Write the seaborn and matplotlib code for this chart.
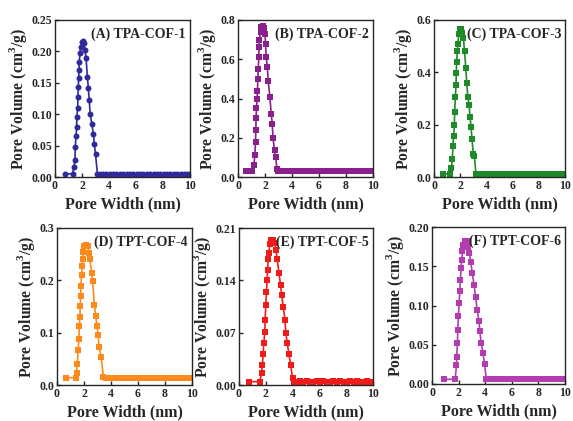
import pandas as pd
import matplotlib
matplotlib.use("Agg")
import matplotlib.pyplot as plt
import seaborn as sns

# ---- data (pore width in nm, pore volume in cm3/g) ----
a_width = [0.74, 1.3, 1.41, 1.48, 1.5, 1.56, 1.6, 1.62, 1.68, 1.7, 1.73, 1.75, 1.78, 1.8,
           1.85, 1.9, 1.98, 2.1, 2.16, 2.22, 2.3, 2.4, 2.47, 2.54, 2.6, 2.72, 2.84, 2.91, 3.0, 3.14]
a_volume = [0.005, 0.005, 0.016, 0.027, 0.048, 0.065, 0.08, 0.096, 0.11, 0.128, 0.144, 0.157,
            0.17, 0.183, 0.197, 0.207, 0.215, 0.217, 0.213, 0.202, 0.189, 0.16, 0.141, 0.122,
            0.101, 0.085, 0.069, 0.053, 0.037, 0.005]
a_tail_w = [3.3, 3.55, 3.8, 4.05, 4.3, 4.55, 4.8, 5.05, 5.3, 5.55, 5.8, 6.05, 6.3, 6.55,
            6.8, 7.05, 7.3, 7.55, 7.8, 8.05, 8.3, 8.55, 8.8, 9.05, 9.3, 9.55, 9.8, 10.0]
a_tail_v = [0.005, 0.005, 0.005, 0.005, 0.005, 0.005, 0.005, 0.005, 0.005, 0.005, 0.005, 0.005,
            0.005, 0.005, 0.005, 0.005, 0.005, 0.005, 0.005, 0.005, 0.005, 0.005, 0.005, 0.005,
            0.005, 0.005, 0.005, 0.005]

b_width = [0.6, 1.05, 1.17, 1.25, 1.3, 1.32, 1.34, 1.37, 1.42, 1.44, 1.47, 1.5, 1.54, 1.56,
           1.59, 1.67, 1.74, 1.84, 1.92, 2.0, 2.04, 2.09, 2.17, 2.24, 2.36, 2.46, 2.54, 2.59,
           2.71, 2.79, 2.89, 2.94]
b_volume = [0.03, 0.03, 0.06, 0.11, 0.18, 0.24, 0.3, 0.35, 0.4, 0.44, 0.5, 0.55, 0.61, 0.66,
            0.7, 0.74, 0.765, 0.77, 0.757, 0.73, 0.68, 0.61, 0.56, 0.49, 0.41, 0.32, 0.27, 0.2,
            0.136, 0.1, 0.04, 0.03]
b_tail_w = [3.1, 3.3, 3.5, 3.7, 3.9, 4.1, 4.35, 4.6, 4.85, 5.1, 5.35, 5.6, 5.85, 6.1, 6.35,
            6.6, 6.85, 7.1, 7.35, 7.6, 7.85, 8.1, 8.35, 8.6, 8.85, 9.1, 9.35, 9.6, 9.85, 10.0]
b_tail_v = [0.03, 0.03, 0.03, 0.03, 0.03, 0.03, 0.03, 0.03, 0.03, 0.03, 0.03, 0.03, 0.03, 0.03,
            0.03, 0.03, 0.03, 0.03, 0.03, 0.03, 0.03, 0.03, 0.03, 0.03, 0.03, 0.03, 0.03, 0.03,
            0.03, 0.03]

c_width = [0.68, 1.25, 1.33, 1.4, 1.45, 1.5, 1.55, 1.58, 1.63, 1.68, 1.7, 1.73, 1.78, 1.83,
           1.88, 1.95, 2.05, 2.15, 2.25, 2.33, 2.43, 2.5, 2.58, 2.68, 2.75, 2.83, 2.9, 3.0,
           3.08, 3.2]
c_volume = [0.012, 0.012, 0.036, 0.068, 0.12, 0.158, 0.197, 0.248, 0.306, 0.35, 0.397, 0.44,
            0.48, 0.51, 0.545, 0.564, 0.564, 0.55, 0.53, 0.48, 0.416, 0.358, 0.306, 0.274,
            0.23, 0.19, 0.145, 0.088, 0.08, 0.012]
c_tail_w = [3.35, 3.6, 3.85, 4.1, 4.35, 4.6, 4.85, 5.1, 5.35, 5.6, 5.85, 6.1, 6.35, 6.6,
            6.85, 7.1, 7.35, 7.6, 7.85, 8.1, 8.35, 8.6, 8.85, 9.1, 9.35, 9.6, 9.85, 10.0]
c_tail_v = [0.012, 0.012, 0.012, 0.012, 0.012, 0.012, 0.012, 0.012, 0.012, 0.012, 0.012, 0.012,
            0.012, 0.012, 0.012, 0.012, 0.012, 0.012, 0.012, 0.012, 0.012, 0.012, 0.012, 0.012,
            0.012, 0.012, 0.012, 0.012]

d_width = [0.7, 1.4, 1.45, 1.5, 1.57, 1.62, 1.65, 1.7, 1.72, 1.75, 1.77, 1.82, 1.87, 1.9,
           1.95, 2.02, 2.14, 2.27, 2.37, 2.44, 2.57, 2.64, 2.77, 2.87, 2.97, 3.04, 3.12, 3.27,
           3.44]
d_volume = [0.014, 0.014, 0.022, 0.04, 0.067, 0.087, 0.112, 0.13, 0.151, 0.17, 0.19, 0.21,
            0.227, 0.24, 0.255, 0.266, 0.268, 0.265, 0.253, 0.24, 0.214, 0.198, 0.153, 0.131,
            0.112, 0.096, 0.073, 0.054, 0.015]
d_tail_w = [3.6, 3.85, 4.1, 4.35, 4.6, 4.85, 5.1, 5.35, 5.6, 5.85, 6.1, 6.35, 6.6, 6.85,
            7.1, 7.35, 7.6, 7.85, 8.1, 8.35, 8.6, 8.85, 9.1, 9.35, 9.6, 9.85, 10.0]
d_tail_v = [0.014, 0.014, 0.014, 0.014, 0.014, 0.014, 0.014, 0.014, 0.014, 0.014, 0.014, 0.014,
            0.014, 0.014, 0.014, 0.014, 0.014, 0.014, 0.014, 0.014, 0.014, 0.014, 0.014, 0.014,
            0.014, 0.014, 0.014]

e_width = [0.75, 1.55, 1.68, 1.75, 1.8, 1.85, 1.93, 1.95, 2.0, 2.05, 2.1, 2.13, 2.18, 2.23,
           2.3, 2.4, 2.55, 2.68, 2.75, 2.85, 2.98, 3.1, 3.18, 3.3, 3.43, 3.5, 3.6, 3.72, 3.85,
           4.0, 4.1]
e_volume = [0.0045, 0.0045, 0.0156, 0.027, 0.042, 0.056, 0.071, 0.087, 0.107, 0.125, 0.141,
            0.154, 0.168, 0.176, 0.188, 0.194, 0.194, 0.19, 0.181, 0.168, 0.15, 0.134, 0.121,
            0.105, 0.087, 0.069, 0.056, 0.042, 0.027, 0.009, 0.0045]
e_tail_w = [4.3, 4.55, 4.8, 5.05, 5.3, 5.55, 5.8, 6.05, 6.3, 6.55, 6.8, 7.05, 7.3, 7.55,
            7.8, 8.05, 8.3, 8.55, 8.8, 9.05, 9.3, 9.55, 9.8, 10.0]
e_tail_v = [0.004, 0.005, 0.004, 0.005, 0.004, 0.004, 0.005, 0.004, 0.005, 0.004, 0.004, 0.005,
            0.004, 0.005, 0.004, 0.004, 0.005, 0.004, 0.005, 0.004, 0.004, 0.005, 0.004, 0.004]

f_width = [0.87, 1.74, 1.84, 1.86, 1.91, 1.94, 1.99, 2.04, 2.09, 2.14, 2.19, 2.24, 2.29, 2.36,
           2.46, 2.61, 2.71, 2.81, 2.91, 3.03, 3.16, 3.28, 3.4, 3.53, 3.6, 3.7, 3.83, 3.95,
           4.07, 4.2]
f_volume = [0.006, 0.006, 0.024, 0.035, 0.052, 0.069, 0.086, 0.103, 0.118, 0.133, 0.148, 0.158,
            0.169, 0.177, 0.182, 0.182, 0.175, 0.167, 0.156, 0.141, 0.126, 0.111, 0.094, 0.08,
            0.067, 0.052, 0.039, 0.026, 0.007, 0.006]
f_tail_w = [4.4, 4.65, 4.9, 5.15, 5.4, 5.65, 5.9, 6.15, 6.4, 6.65, 6.9, 7.15, 7.4, 7.65,
            7.9, 8.15, 8.4, 8.65, 8.9, 9.15, 9.4, 9.65, 9.9, 10.0]
f_tail_v = [0.006, 0.006, 0.006, 0.006, 0.006, 0.006, 0.006, 0.006, 0.006, 0.006, 0.006, 0.006,
            0.006, 0.006, 0.006, 0.006, 0.006, 0.006, 0.006, 0.006, 0.006, 0.006, 0.006, 0.006]

labels = ["(A) TPA-COF-1", "(B) TPA-COF-2", "(C) TPA-COF-3",
          "(D) TPT-COF-4", "(E) TPT-COF-5", "(F) TPT-COF-6"]
colors = ["#2e2a9c", "#8a1f8e", "#1f8a2a", "#ff8a1c", "#f01c1c", "#b23cb0"]
markers = ["o", "s", "s", "s", "s", "s"]
y_max = [0.25, 0.8, 0.6, 0.3, 0.21, 0.20]
y_ticks = [[0.0, 0.05, 0.10, 0.15, 0.20, 0.25],
           [0.0, 0.2, 0.4, 0.6, 0.8],
           [0.0, 0.2, 0.4, 0.6],
           [0.0, 0.1, 0.2, 0.3],
           [0.0, 0.07, 0.14, 0.21],
           [0.0, 0.05, 0.10, 0.15, 0.20]]
y_fmt = ["%.2f", "%.1f", "%.1f", "%.1f", "%.2f", "%.2f"]

series = [(a_width + a_tail_w, a_volume + a_tail_v),
          (b_width + b_tail_w, b_volume + b_tail_v),
          (c_width + c_tail_w, c_volume + c_tail_v),
          (d_width + d_tail_w, d_volume + d_tail_v),
          (e_width + e_tail_w, e_volume + e_tail_v),
          (f_width + f_tail_w, f_volume + f_tail_v)]

# ---- style ----
sns.set_style("ticks")
plt.rcParams["font.family"] = ["Liberation Serif", "DejaVu Serif"]
plt.rcParams["font.weight"] = "bold"
plt.rcParams["mathtext.fontset"] = "custom"
plt.rcParams["mathtext.rm"] = "Liberation Serif:bold"
plt.rcParams["mathtext.bf"] = "Liberation Serif:bold"

W, H = 573, 421
fig = plt.figure(figsize=(W / 100, H / 100), dpi=100)

# axes boxes in pixels: left, top, right, bottom
boxes = [(55, 20, 190, 177), (238, 20, 373, 177), (434, 20, 565, 177),
         (57, 228, 192, 385), (239, 228, 373, 385), (432, 227, 565, 384)]

for i, (wd, vol) in enumerate(series):
    l, t, r, b = boxes[i]
    ax = fig.add_axes([l / W, 1 - b / H, (r - l) / W, (b - t) / H])
    df = pd.DataFrame({"Pore Width": wd, "Pore Volume": vol})
    sns.lineplot(data=df, x="Pore Width", y="Pore Volume", ax=ax, sort=False,
                 color=colors[i], marker=markers[i], markersize=4.3,
                 markeredgewidth=0, linewidth=1.2)
    ax.set_xlim(0, 10)
    ax.set_ylim(0, y_max[i])
    ax.set_xticks([0, 2, 4, 6, 8, 10])
    ax.set_yticks(y_ticks[i])
    ax.set_yticklabels([y_fmt[i] % v for v in y_ticks[i]])
    ax.tick_params(direction="in", length=3, width=1, labelsize=8.5, pad=2)
    for lab in ax.get_xticklabels() + ax.get_yticklabels():
        lab.set_fontweight("bold")
    for sp in ax.spines.values():
        sp.set_visible(True)
        sp.set_linewidth(1.0)
    ax.set_xlabel("Pore Width (nm)", fontsize=11.5, fontweight="bold", labelpad=3)
    ax.set_ylabel("Pore Volume (cm$^{3}$/g)", fontsize=11.3, fontweight="bold", labelpad=2)
    ax.text(0.97, 0.95, labels[i], transform=ax.transAxes, ha="right", va="top",
            fontsize=10, fontweight="bold")

fig.savefig("out.png", dpi=100)
